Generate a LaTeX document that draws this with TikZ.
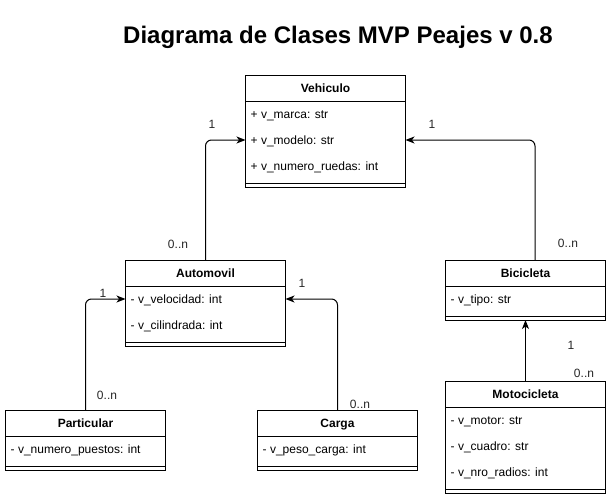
\documentclass[tikz,border=0pt]{standalone}
\usepackage{fontspec}
\setmainfont{Liberation Sans}
\usetikzlibrary{calc,arrows.meta}
\tikzset{
  classbox/.style={draw, line width=1pt, minimum width=160pt, inner sep=0pt, outer sep=0pt, anchor=north west},
  divline/.style={line width=1pt},
  classtitle/.style={font=\fontsize{12}{14}\selectfont\bfseries, inner sep=0pt, anchor=base},
  attr/.style={font=\fontsize{12}{14}\selectfont, inner sep=0pt, anchor=base west},
  mult/.style={font=\fontsize{12}{14}\selectfont, inner sep=0pt, text=black!85},
  assoc/.style={line width=1pt, rounded corners=6pt, -{Stealth[length=9pt,width=7pt,inset=2.5pt]}},
  titletext/.style={font=\fontsize{24}{28}\selectfont\bfseries, inner sep=0pt}
}
\newcommand{\umlclass}[6]{% name, x, ytop, nattrs, title, attrs
  \node[classbox, minimum height={34+26*#4}] (#1) at (#2,#3) {};
  \node[classtitle] (#1-t) at ($(#1.north)+(0,17.5)$) {#5};
  \draw[divline] ($(#1.north west)+(0,26)$) -- ($(#1.north east)+(0,26)$);
  \draw[divline] ($(#1.south west)+(0,-4)$) -- ($(#1.south east)+(0,-4)$);
  \foreach \a [count=\i] in {#6} {
    \node[attr] (#1-a\i) at ($(#1.north west)+(5,{26+13+4.5+26*(\i-1)})$) {\a};
  }
}
\begin{document}
\begin{tikzpicture}[x=1pt,y=-1pt]
\useasboundingbox (0,0) rectangle (611,498);
\node[titletext] (title) at (338,37) {Diagrama de Clases MVP Peajes v 0.8};

\umlclass{veh}{245.5}{75}{3}{Vehiculo}{+ v\_marca: str, + v\_modelo: str, + v\_numero\_ruedas: int}
\umlclass{auto}{125.5}{260}{2}{Automovil}{- v\_velocidad: int, - v\_cilindrada: int}
\umlclass{part}{5.5}{410}{1}{Particular}{- v\_numero\_puestos: int}
\umlclass{carga}{257.5}{410}{1}{Carga}{- v\_peso\_carga: int}
\umlclass{bici}{445.5}{260}{1}{Bicicleta}{- v\_tipo: str}
\umlclass{moto}{445.5}{381}{3}{Motocicleta}{- v\_motor: str, - v\_cuadro: str, - v\_nro\_radios: int}

\coordinate (veh-in) at (veh.west |- 0,140);
\coordinate (veh-inr) at (veh.east |- 0,140);
\coordinate (auto-in) at (auto.west |- 0,299);
\coordinate (auto-inr) at (auto.east |- 0,299);

\draw[assoc] (auto.north) |- (veh-in);
\draw[assoc] ([xshift=9.5pt]bici.north) |- (veh-inr);
\draw[assoc] (part.north) |- (auto-in);
\draw[assoc] (carga.north) |- (auto-inr);
\draw[assoc] (moto.north) -- (moto.north |- bici.south);

\node[mult] (m1) at (212,124) {1};
\node[mult] (m2) at (432,124) {1};
\node[mult] (m3) at (178,244) {0..n};
\node[mult] (m4) at (568,243) {0..n};
\node[mult] (m5) at (103,293) {1};
\node[mult] (m6) at (107,395) {0..n};
\node[mult] (m7) at (302,283) {1};
\node[mult] (m8) at (360,404) {0..n};
\node[mult] (m9) at (571,345) {1};
\node[mult] (m10) at (584,373) {0..n};
\end{tikzpicture}
\end{document}
